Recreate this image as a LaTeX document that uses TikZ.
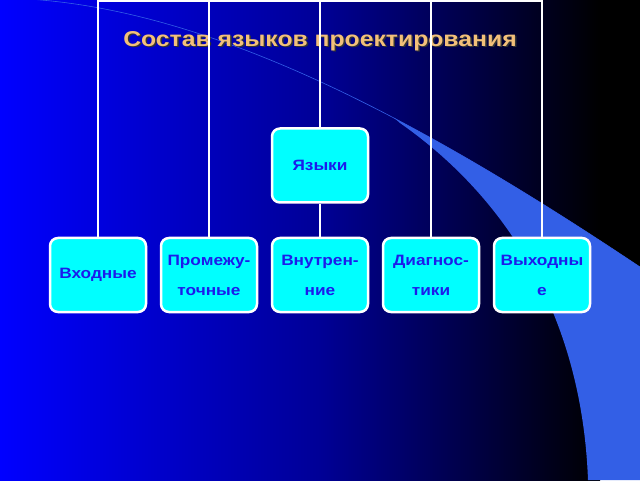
\documentclass[tikz,border=0pt]{standalone}
\usepackage{fontspec}
\setmainfont{Liberation Sans}[FakeStretch=1.15]
\usepackage{tikz}
\usepackage{color}

\definecolor{bgblue}{RGB}{0,0,255}
\definecolor{bgmid}{RGB}{0,0,150}
\definecolor{swoosh}{RGB}{51,95,230}
\definecolor{boxcyan}{RGB}{0,255,255}
\definecolor{boxtext}{RGB}{28,28,235}
\definecolor{titlegold}{RGB}{242,192,122}

\begin{document}
\begin{tikzpicture}[x=1pt,y=1pt]
        \tikzstyle{lang}=[draw=white, line width=2.5pt, fill=boxcyan, rounded corners=8pt,
                minimum width=96pt, minimum height=74pt, inner sep=0pt, align=center,
                text=boxtext, font=\fontsize{15}{30}\selectfont\bfseries]
        \tikzstyle{link}=[draw=white, line width=2pt]
        \useasboundingbox (0,0) rectangle (640,480);
        \shade [left color=bgblue, right color=bgmid] (0,0) rectangle (320,480);
        \shade [left color=bgmid, right color=black] (320,0) rectangle (600,480);
        \fill [black] (600,0) rectangle (640,480);
        \begin{scope}
        \clip (0,482) .. controls (200,480) and (420,360) .. (640,213) -- (640,0) -- (0,0) -- cycle;
        \fill [swoosh] (588,0) .. controls (582,160) and (510,280) .. (400,357) -- (360,392) -- (640,480) -- (640,0) -- cycle;
        \end{scope}
        \draw [swoosh, line width=0.6pt] (0,482) .. controls (200,480) and (420,360) .. (640,213);
        \node (titleshadow) at (321.5,437.5) {\fontsize{21.5}{26}\selectfont\bfseries\color{black!80}Состав языков проектирования};
        \node (title) at (320,439) {\fontsize{21.5}{26}\selectfont\bfseries\color{titlegold}Состав языков проектирования};
        \node [lang] (yazyki) at (320,314.5) {Языки};
        \node [lang] (vhod) at (98,205) {Входные};
        \node [lang] (prom) at (209,205) {Промежу-\\точные};
        \node [lang] (vnutr) at (320,205) {Внутрен-\\ние};
        \node [lang] (diag) at (431,205) {Диагнос-\\тики};
        \node [lang] (vyhod) at (542,205) {Выходны\\е};
        \coordinate (top) at (320,479);
        \draw [link] (vhod.north) |- (top) -| (vyhod.north);
        \draw [link] (prom.north) -- (prom.north |- top);
        \draw [link] (diag.north) -- (diag.north |- top);
        \draw [link] (yazyki.north) -- (top);
        \draw [link] (yazyki.south) -- (vnutr.north);
\end{tikzpicture}
\end{document}
